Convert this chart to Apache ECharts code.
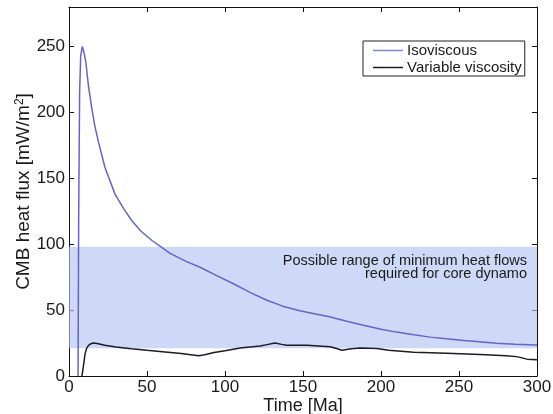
<!DOCTYPE html>
<html>
<head>
<meta charset="utf-8">
<script src="https://cdn.jsdelivr.net/npm/echarts@6/dist/echarts.min.js"></script>
<style>
html,body{margin:0;padding:0;background:#fff;}
#chart{width:553px;height:414px;}
</style>
</head>
<body>
<div id="chart"></div>
<script>
// ---- data ----
var isoTime = [5.8, 6.2, 6.8, 7.5, 8.5, 9.5, 10.7, 12.5, 14.5, 16.5, 18.8, 23.1, 29.5, 35, 40.2, 46, 53, 64.8, 75, 84, 95, 105.4, 116, 126.8, 137, 148, 158, 167, 178, 188.8, 200, 210, 220, 231.5, 242, 253, 263, 274, 286, 300];
var isoFlux = [0, 120, 215, 243, 250, 246, 239, 220, 204, 190, 178, 158, 138, 127, 118, 110, 103, 93, 87, 82.5, 76, 70, 63.5, 57.5, 53, 49.5, 47, 45, 41.5, 38.5, 35.5, 33.3, 31.5, 29.5, 28.2, 27, 26, 24.8, 24, 23.5];

var varTime = [8.3, 9.3, 10.3, 11.3, 12.4, 14, 15.6, 18, 23, 30, 40, 50, 61.6, 72, 83, 87, 93, 100, 109.7, 122.5, 127, 132, 136.4, 139.6, 152.5, 160, 167.4, 171, 175, 181, 186.7, 197.4, 205, 220.9, 242, 263.6, 280, 287, 293.6, 300];
var varFlux = [0, 8, 17, 21, 23, 24.5, 25, 24.7, 23.3, 22, 20.7, 19.5, 18.2, 17, 15.3, 16.2, 17.8, 19.2, 21.3, 22.7, 23.8, 25, 24, 23.3, 23.3, 22.8, 22.2, 21, 19.5, 20.6, 21.2, 20.8, 19.5, 18, 17.2, 16.3, 15.4, 14.7, 12.8, 12.4];

var bandRange = [21, 98];          // possible range of minimum heat flows
var xTicks = {min: 0, max: 300, step: 50};
var yTicks = {min: 0, max: 280, step: 50};

var seriesNames = ['Isoviscous', 'Variable viscosity'];
var bandText = 'Possible range of minimum heat flows\nrequired for core dynamo';

function pairs(xs, ys) { return xs.map(function (x, i) { return [x, ys[i]]; }); }

var FONT = '"Liberation Sans", Arial, Helvetica, sans-serif';
var axisCol = '#111';

function frameAxis(extra) {
  var base = {
    type: 'value',
    axisLine: {show: true, onZero: false, lineStyle: {color: axisCol, width: 1}},
    axisTick: {show: true, inside: true, length: 5, lineStyle: {color: axisCol, width: 1}},
    splitLine: {show: false}
  };
  for (var k in extra) base[k] = extra[k];
  return base;
}

var chart = echarts.init(document.getElementById('chart'), null, {renderer: 'canvas'});
chart.setOption({
  backgroundColor: '#fff',
  animation: false,
  textStyle: {fontFamily: FONT},
  grid: {left: 69, right: 16, top: 7, bottom: 38, containLabel: false, outerBoundsMode: 'none'},
  legend: {
    data: seriesNames,
    orient: 'vertical',
    left: 363, top: 41,
    padding: [2, 3, 1, 10],
    itemGap: 2,
    itemWidth: 30, itemHeight: 1.5,
    icon: 'rect',
    borderColor: '#222', borderWidth: 1,
    backgroundColor: '#fff',
    textStyle: {fontSize: 15, color: '#1a1a1a', fontFamily: FONT, padding: [0, 0, 0, -1]}
  },
  xAxis: [
    frameAxis({
      position: 'bottom', min: xTicks.min, max: xTicks.max, interval: xTicks.step,
      axisLabel: {fontSize: 17, color: '#1a1a1a', margin: 3, fontFamily: FONT},
      name: 'Time [Ma]', nameLocation: 'middle', nameGap: 21, nameMoveOverlap: false,
      nameTextStyle: {fontSize: 18, color: '#1a1a1a', fontFamily: FONT}
    }),
    frameAxis({
      position: 'top', min: xTicks.min, max: xTicks.max, interval: xTicks.step,
      axisLabel: {show: false}
    })
  ],
  yAxis: [
    frameAxis({
      position: 'left', min: yTicks.min, max: yTicks.max, interval: yTicks.step,
      axisLabel: {fontSize: 17, color: '#1a1a1a', margin: 4, showMaxLabel: false, fontFamily: FONT},
      name: 'CMB heat flux [mW/m{sup|2}]', nameLocation: 'middle', nameGap: 36, nameRotate: 90, nameMoveOverlap: false,
      nameTextStyle: {fontSize: 19, color: '#1a1a1a', fontFamily: FONT,
        rich: {sup: {fontSize: 12, verticalAlign: 'top', lineHeight: 12, padding: [0, 0, 7, 0], color: '#1a1a1a', fontFamily: FONT}}}
    }),
    frameAxis({
      position: 'right', min: yTicks.min, max: yTicks.max, interval: yTicks.step,
      axisLabel: {show: false}
    })
  ],
  series: [
    {
      name: seriesNames[0], type: 'line', xAxisIndex: 0, yAxisIndex: 0,
      data: pairs(isoTime, isoFlux), showSymbol: false, symbol: 'none', smooth: false,
      lineStyle: {color: '#6464cc', width: 1.5}, itemStyle: {color: '#8080d8'}, z: 3,
      markArea: {
        silent: true,
        itemStyle: {color: 'rgba(178,196,242,0.65)'},
        label: {
          show: true, position: 'insideTopRight', distance: 0,
          padding: [8, 10, 0, 0], align: 'right',
          fontSize: 14.5, lineHeight: 12.5, color: '#1a1a1a', fontFamily: FONT
        },
        data: [[{xAxis: xTicks.min, yAxis: bandRange[0], name: bandText}, {xAxis: xTicks.max, yAxis: bandRange[1]}]]
      }
    },
    {
      name: seriesNames[1], type: 'line', xAxisIndex: 0, yAxisIndex: 0,
      data: pairs(varTime, varFlux), showSymbol: false, symbol: 'none', smooth: false,
      lineStyle: {color: '#1c1c26', width: 1.5}, itemStyle: {color: '#1c1c26'}, z: 4
    }
  ]
});
</script>
</body>
</html>
